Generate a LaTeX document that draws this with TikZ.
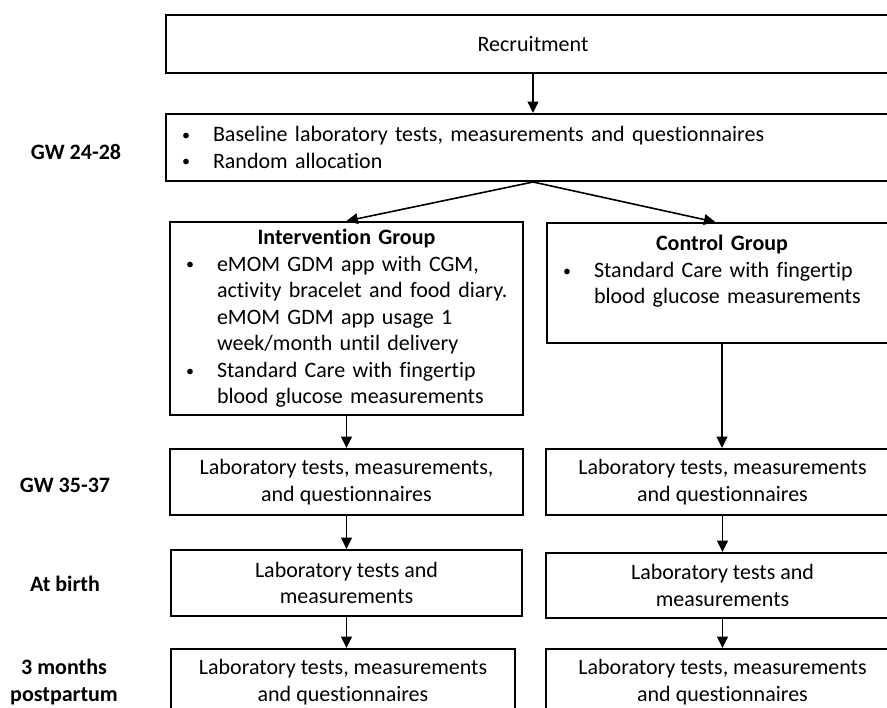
\documentclass[tikz,border=0pt]{standalone}
\usepackage{fontspec}
\setmainfont{Carlito}[Ligatures=NoCommon]
\usetikzlibrary{positioning, arrows.meta}

% bulleted line with hanging indent
\newcommand{\bulitem}[1]{\hangindent=35.25pt\hangafter=0\noindent\llap{\makebox[23.25pt][l]{\raisebox{1pt}{\fontsize{12}{12}\selectfont\textbullet}}}#1\par}

\begin{document}
\begin{tikzpicture}[
    x=0.75pt, y=-0.75pt,
    box/.style={rectangle, draw, line width=1.5pt, inner sep=0pt, font=\fontsize{16.5}{19.9}\selectfont},
    arr/.style={-{Triangle[length=8.5pt, width=8pt]}, line width=1.2pt},
    phase/.style={font=\fontsize{16.5}{19.9}\selectfont\bfseries, align=center},
]

\useasboundingbox (0,0) rectangle (887,707);
\clip (0,0) rectangle (887,707);

\node[box, minimum width=550.5pt, minimum height=43.5pt] (recruit) at (533,44) {Recruitment};
\node[box, minimum width=550.5pt, minimum height=50.25pt, text width=550.5pt, align=left] (baseline) at (533,147.5) {\bulitem{Baseline laboratory tests, measurements and questionnaires}\bulitem{Random allocation}};

\node[box, minimum width=264.75pt, minimum height=144.75pt, text width=264.75pt, align=left] (interv) at (346.5,318.5) {\noindent{\centering\bfseries Intervention Group\par}\bulitem{eMOM GDM app with CGM,\newline activity bracelet and food diary.\newline eMOM GDM app usage 1\newline week/month until delivery}\bulitem{Standard Care with fingertip\newline blood glucose measurements}};
\node[box, minimum width=262.5pt, minimum height=90pt, text width=262.5pt, align=left] (control) at (722,283) {\noindent{\centering\bfseries Control Group\par}\bulitem{Standard Care with fingertip\newline blood glucose measurements\newline\mbox{}}};

\node[box, minimum width=264.75pt, minimum height=49.5pt, align=center] (labL) at (346.5,482) {Laboratory tests, measurements,\\and questionnaires};
\node[box, minimum width=264.75pt, minimum height=49.5pt, align=center] (labR) at (722.5,482) {Laboratory tests, measurements\\and questionnaires};

\node[box, minimum width=263.25pt, minimum height=49.5pt, align=center] (birthL) at (346.5,583) {Laboratory tests and\\measurements};
\node[box, minimum width=264.75pt, minimum height=48.75pt, align=center] (birthR) at (722.5,585.5) {Laboratory tests and\\measurements};

\node[box, minimum width=258pt, minimum height=49.5pt, align=center] (ppL) at (343,682) {Laboratory tests, measurements\\and questionnaires};
\node[box, minimum width=264.75pt, minimum height=49.5pt, align=center] (ppR) at (722.5,682) {Laboratory tests, measurements\\and questionnaires};

\node[phase] (gwA) at (76,152) {GW 24-28};
\node[phase] (gwB) at (65,485) {GW 35-37};
\node[phase] (birth) at (65,584) {At birth};
\node[phase] (post) at (64,682) {3 months\\postpartum};

\draw[arr] (recruit.south) -- (baseline.north);
\draw[arr] (baseline.south) -- (interv.north);
\draw[arr] (baseline.south) -- ([xshift=-5pt]control.north);
\draw[arr] (interv.south) -- (interv.south |- labL.north);
\draw[arr] (control.south) -- (control.south |- labR.north);
\draw[arr] (labL.south) -- (labL.south |- birthL.north);
\draw[arr] (labR.south) -- (labR.south |- birthR.north);
\draw[arr] (birthL.south) -- (birthL.south |- ppL.north);
\draw[arr] (birthR.south) -- (birthR.south |- ppR.north);

\end{tikzpicture}
\end{document}
